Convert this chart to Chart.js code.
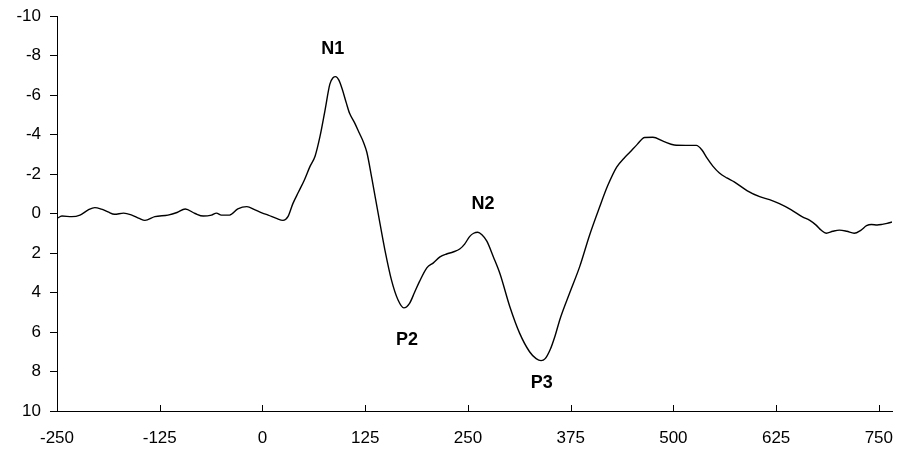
<!DOCTYPE html>
<html>
<head>
<meta charset="utf-8">
<script src="https://cdn.jsdelivr.net/npm/chart.js@4"></script>
<style>
  html, body { margin: 0; padding: 0; background: #fff; }
  #wrap { width: 899px; height: 450px; position: relative; }
</style>
</head>
<body>
<div id="wrap"><canvas id="chart"></canvas></div>
<script>
// ERP waveform, time in ms, amplitude in µV (negative up)
const timeMs = [
  -250, -244, -232, -222, -212, -204, -196, -188, -180, -169, -159, -150, -143, -131, -115, -104,
  -94, -82, -72, -62, -56, -50, -40, -30, -19, -9, 0, 7, 17, 25, 31, 37, 44, 51, 58, 64, 70, 76,
  82, 86, 89, 93, 97, 102, 106, 112, 118, 123, 127, 133, 141, 149, 157, 165, 172, 179, 185, 191,
  200, 208, 216, 224, 232, 240, 246, 252, 257, 262, 267, 273, 281, 289, 301, 313, 325, 333, 339,
  344, 350, 356, 362, 374, 386, 398, 410, 420, 431, 440, 447, 456, 465, 475, 488, 501, 515, 528,
  535, 541, 548, 556, 565, 574, 590, 605, 617, 629, 643, 657, 666, 674, 680, 686, 694, 702, 711,
  720, 728, 735, 741, 748, 754, 760, 766
];
const amplitude = [
  0.25, 0.13, 0.16, 0.08, -0.18, -0.3, -0.22, -0.08, 0.04, -0.02, 0.08, 0.25, 0.35, 0.16, 0.08, -0.05,
  -0.23, 0, 0.13, 0.08, -0.02, 0.08, 0.08, -0.23, -0.35, -0.18, -0.02, 0.08, 0.25, 0.35, 0.16, -0.5, -1.1, -1.7, -2.4, -2.9, -3.9, -5.2,
  -6.55, -6.88, -6.93, -6.75, -6.3, -5.6, -5.07, -4.6, -4.06, -3.6, -3.1, -1.8, 0.05, 1.85, 3.37, 4.38, 4.78, 4.55, 4.0, 3.45,
  2.75, 2.5, 2.2, 2.05, 1.95, 1.8, 1.55, 1.17, 1.0, 0.95, 1.08, 1.4, 2.2, 3.05, 4.72, 6.07, 7.0, 7.35, 7.45,
  7.35, 6.9, 6.2, 5.35, 4.0, 2.69, 1.1, -0.3, -1.4, -2.35, -2.8, -3.1, -3.5, -3.85, -3.86, -3.65, -3.47, -3.45, -3.45,
  -3.2, -2.8, -2.4, -2.05, -1.8, -1.6, -1.15, -0.85, -0.7, -0.5, -0.2, 0.17, 0.35, 0.6, 0.85, 1.0, 0.9, 0.84, 0.9,
  1.0, 0.85, 0.62, 0.56, 0.58, 0.55, 0.5, 0.43
];

const xTicks = [-250, -125, 0, 125, 250, 375, 500, 625, 750];
const yTicks = [-10, -8, -6, -4, -2, 0, 2, 4, 6, 8, 10];

// component labels and where they sit (data units)
const peakNames = ["N1", "N2", "P2", "P3"];
const peakX = [85.6, 268.3, 176, 339.7];
const peakY = [-8.33, -0.48, 6.4, 8.58];

const FONT = "'Liberation Sans', Arial, sans-serif";

const points = timeMs.map((t, i) => ({ x: t, y: amplitude[i] }));

// x-axis tick marks point up into the plot
const innerTicks = {
  id: "innerTicks",
  afterDraw(chart) {
    const { ctx, scales } = chart;
    const x = scales.x;
    const bottom = chart.chartArea.bottom;
    ctx.save();
    ctx.strokeStyle = "#000";
    ctx.lineWidth = 1;
    xTicks.forEach((v) => {
      const px = Math.round(x.getPixelForValue(v)) + 0.5;
      ctx.beginPath();
      ctx.moveTo(px, bottom);
      ctx.lineTo(px, bottom - 6);
      ctx.stroke();
    });
    ctx.restore();
  },
};

const peakLabels = {
  id: "peakLabels",
  afterDatasetsDraw(chart) {
    const { ctx, scales } = chart;
    ctx.save();
    ctx.fillStyle = "#000";
    ctx.font = `bold 18px ${FONT}`;
    ctx.textAlign = "center";
    ctx.textBaseline = "middle";
    peakNames.forEach((name, i) => {
      ctx.fillText(name, scales.x.getPixelForValue(peakX[i]), scales.y.getPixelForValue(peakY[i]));
    });
    ctx.restore();
  },
};

new Chart(document.getElementById("chart"), {
  type: "line",
  data: {
    datasets: [{
      data: points,
      borderColor: "#000",
      borderWidth: 1.4,
      pointRadius: 0,
      fill: false,
      cubicInterpolationMode: "monotone",
    }],
  },
  options: {
    responsive: true,
    maintainAspectRatio: false,
    animation: false,
    layout: { padding: { top: 16, right: 7, left: 0, bottom: 0 } },
    plugins: { legend: { display: false }, tooltip: { enabled: false } },
    scales: {
      x: {
        type: "linear",
        min: -250,
        max: 766,
        afterBuildTicks: (axis) => { axis.ticks = xTicks.map((v) => ({ value: v })); },
        afterFit: (axis) => {
          axis.height = 39;
          axis.paddingLeft = 0;
          axis.paddingRight = 0;
        },
        grid: { drawOnChartArea: false, drawTicks: false },
        border: { color: "#000", width: 1 },
        ticks: {
          color: "#000",
          font: { size: 17, family: FONT },
          padding: 17,
          maxRotation: 0,
          autoSkip: false,
        },
      },
      y: {
        min: -10,
        max: 10,
        reverse: true,
        afterBuildTicks: (axis) => { axis.ticks = yTicks.map((v) => ({ value: v })); },
        afterFit: (axis) => {
          axis.width = 57;
          axis.paddingTop = 0;
          axis.paddingBottom = 0;
        },
        grid: { drawOnChartArea: false, drawTicks: true, tickLength: 7, color: "#000" },
        border: { color: "#000", width: 1 },
        ticks: {
          color: "#000",
          font: { size: 17, family: FONT },
          padding: 9,
          autoSkip: false,
        },
      },
    },
  },
  plugins: [innerTicks, peakLabels],
});
</script>
</body>
</html>
